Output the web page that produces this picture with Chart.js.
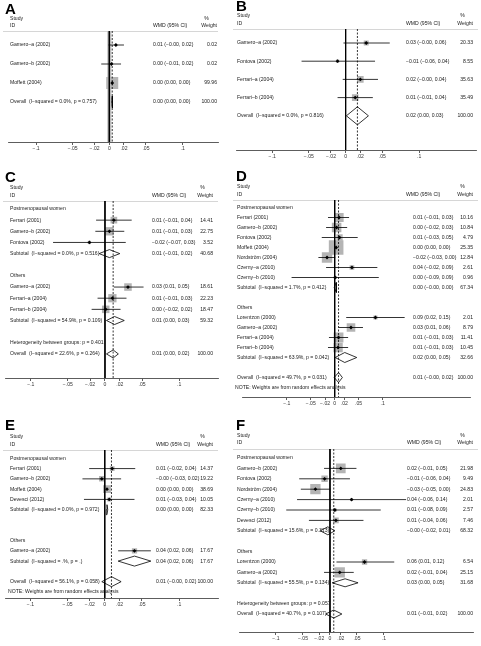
<!DOCTYPE html>
<html>
<head>
<meta charset="utf-8">
<script src="https://cdn.jsdelivr.net/npm/chart.js@4.4.1/dist/chart.umd.min.js"></script>
<style>
  html, body { margin: 0; padding: 0; background: #fff; }
  #wrap { position: relative; width: 481px; height: 646px; overflow: hidden; }
  #wrap canvas { position: absolute; }
</style>
</head>
<body>
<div id="wrap"></div>
<script>
// axis ticks shared by every panel
const xTicks = [-0.1, -0.05, -0.02, 0, 0.02, 0.05, 0.1];

// kinds: g = group title, s = study, t = subtotal / overall (diamond), h = heterogeneity, n = note, '' = blank

// ---- A ----
const aLabels = ['Gamero–a (2002)', 'Gamero–b (2002)', 'Moffett (2004)', 'Overall  (I−squared = 0.0%, p = 0.757)'];
const aKind = ['s', 's', 's', 't'];
const aEst = [0.009, 0.003, 0.004, 0.004];
const aLo = [-0.001, -0.011, 0.003, 0.0035];
const aHi = [0.020, 0.016, 0.0045, 0.0045];
const aWeight = [0.02, 0.02, 99.96, 100];

// ---- B ----
const bLabels = ['Gamero–a (2002)', 'Fontova (2002)', 'Ferrari–a (2004)', 'Ferrari–b (2004)', 'Overall  (I−squared = 0.0%, p = 0.816)'];
const bKind = ['s', 's', 's', 's', 't'];
const bEst = [0.028, -0.011, 0.020, 0.013, 0.016];
const bLo = [-0.003, -0.060, -0.004, -0.011, 0.001];
const bHi = [0.060, 0.040, 0.044, 0.037, 0.031];
const bWeight = [20.33, 8.55, 35.63, 35.49, 100];

// ---- C ----
const cLabels = ['Postmenopausal women', 'Ferrari (2001)', 'Gamero–b (2002)', 'Fontova (2002)',
  'Subtotal  (I−squared = 0.0%, p = 0.516)', '', 'Others', 'Gamero–a (2002)', 'Ferrari–a (2004)',
  'Ferrari–b (2004)', 'Subtotal  (I−squared = 54.9%, p = 0.109)', '',
  'Heterogeneity between groups: p = 0.401', 'Overall  (I−squared = 22.6%, p = 0.264)'];
const cKind = ['g', 's', 's', 's', 't', '', 'g', 's', 's', 's', 't', '', 'h', 't'];
const cEst = [null, 0.012, 0.006, -0.021, 0.006, null, null, 0.031, 0.010, 0.001, 0.013, null, null, 0.011];
const cLo = [null, -0.012, -0.013, -0.070, -0.008, null, null, 0.012, -0.010, -0.018, 0.002, null, null, 0.002];
const cHi = [null, 0.036, 0.026, 0.028, 0.020, null, null, 0.052, 0.029, 0.021, 0.026, null, null, 0.018];
const cWeight = [null, 14.41, 22.75, 3.52, 40.68, null, null, 18.61, 22.23, 18.47, 59.32, null, null, 100];

// ---- D ----
const dLabels = ['Postmenopausal women', 'Ferrari (2001)', 'Gamero–b (2002)', 'Fontova (2002)', 'Moffett (2004)',
  'Nordström (2004)', 'Czerny–a (2010)', 'Czerny–b (2010)', 'Subtotal  (I−squared = 1.7%, p = 0.412)', '',
  'Others', 'Lorentzon (2000)', 'Gamero–a (2002)', 'Ferrari–a (2004)', 'Ferrari–b (2004)',
  'Subtotal  (I−squared = 63.9%, p = 0.042)', '', 'Overall  (I−squared = 49.7%, p = 0.031)',
  'NOTE: Weights are from random effects analysis'];
const dKind = ['g', 's', 's', 's', 's', 's', 's', 's', 't', '', 'g', 's', 's', 's', 's', 't', '', 't', 'n'];
const dEst = [null, 0.009, 0.004, 0.010, 0.003, -0.016, 0.036, 0.001, 0.003, null, null, 0.085, 0.034, 0.008, 0.007, 0.021, null, 0.008, null];
const dLo = [null, -0.014, -0.018, -0.027, 0.002, -0.034, -0.018, -0.090, -0.001, null, null, 0.024, 0.009, -0.012, -0.014, 0.001, null, -0.001, null];
const dHi = [null, 0.030, 0.026, 0.048, 0.004, 0.001, 0.089, 0.092, 0.004, null, null, 0.146, 0.059, 0.028, 0.028, 0.046, null, 0.016, null];
const dWeight = [null, 10.16, 10.84, 4.79, 25.35, 12.84, 2.61, 0.96, 67.34, null, null, 2.01, 8.79, 11.41, 10.45, 32.66, null, 100, null];

// ---- E ----
const eLabels = ['Postmenopausal women', 'Ferrari (2001)', 'Gamero–b (2002)', 'Moffett (2004)', 'Devesci (2012)',
  'Subtotal  (I−squared = 0.0%, p = 0.972)', '', '', 'Others', 'Gamero–a (2002)',
  'Subtotal  (I−squared = .%, p = .)', '', 'Overall  (I−squared = 56.1%, p = 0.058)',
  'NOTE: Weights are from random effects analysis'];
const eKind = ['g', 's', 's', 's', 's', 't', '', '', 'g', 's', 't', '', 't', 'n'];
const eEst = [null, 0.010, -0.004, 0.003, 0.006, 0.003, null, null, null, 0.040, 0.040, null, 0.009, null];
const eLo = [null, -0.021, -0.030, 0.002, -0.028, 0.002, null, null, null, 0.018, 0.018, null, -0.004, null];
const eHi = [null, 0.041, 0.022, 0.004, 0.040, 0.004, null, null, null, 0.062, 0.062, null, 0.022, null];
const eWeight = [null, 14.37, 19.22, 38.69, 10.05, 82.33, null, null, null, 17.67, 17.67, null, 100, null];

// ---- F ----
const fLabels = ['Postmenopausal women', 'Gamero–b (2002)', 'Fontova (2002)', 'Nordström (2004)', 'Czerny–a (2010)',
  'Czerny–b (2010)', 'Devesci (2012)', 'Subtotal  (I−squared = 15.6%, p = 0.313)', '', 'Others',
  'Lorentzon (2000)', 'Gamero–a (2002)', 'Subtotal  (I−squared = 55.5%, p = 0.134)', '',
  'Heterogeneity between groups: p = 0.057', 'Overall  (I−squared = 40.7%, p = 0.107)'];
const fKind = ['g', 's', 's', 's', 's', 's', 's', 't', '', 'g', 's', 's', 't', '', 'h', 't'];
const fEst = [null, 0.020, -0.010, -0.027, 0.040, 0.009, 0.011, -0.004, null, null, 0.064, 0.018, 0.028, null, null, 0.007];
const fLo = [null, -0.011, -0.057, -0.054, -0.061, -0.081, -0.039, -0.018, null, null, 0.012, -0.011, 0.004, null, null, -0.008];
const fHi = [null, 0.049, 0.037, 0.001, 0.141, 0.094, 0.062, 0.009, null, null, 0.119, 0.044, 0.052, null, null, 0.022];
const fWeight = [null, 21.98, 9.49, 24.83, 2.01, 2.57, 7.46, 68.32, null, null, 6.54, 25.15, 31.68, null, null, 100];

const FONT = '"Liberation Sans", Arial, sans-serif';
const FS = 5.1;

// page layout of each panel (page pixels)
const layouts = [
  { id: 'A', left: 0, top: 0, width: 236, height: 160, plotL: 5, plotR: 218, plotT: 31, plotB: 142,
    zero: 107.5, ppu: 745, row0: 45, step: 19, xLab: 10, xWmd: 153, xWmdHead: 153, xW: 217,
    yStudy: 19, yId: 26, letterX: 5, letterY: 14, boxK: 1.2, dia: 6, band: true },
  { id: 'B', left: 232, top: 0, width: 249, height: 170, plotL: 235, plotR: 478, plotT: 29, plotB: 150,
    zero: 345.5, ppu: 745, row0: 43, step: 18.2, xLab: 237, xWmd: 406, xWmdHead: 406, xW: 473,
    yStudy: 16, yId: 24, letterX: 236, letterY: 11, boxK: 1.1, dia: 9 },
  { id: 'C', left: 0, top: 160, width: 236, height: 230, plotL: 5, plotR: 218, plotT: 201, plotB: 378,
    zero: 104.5, ppu: 745, row0: 209, step: 11.15, xLab: 10, xWmd: 152, xWmdHead: 152, xW: 213,
    yStudy: 188, yId: 196, letterX: 5, letterY: 182, boxK: 1.75, dia: 4 },
  { id: 'D', left: 232, top: 160, width: 249, height: 255, plotL: 235, plotR: 478, plotT: 200, plotB: 397,
    zero: 333.3, ppu: 510, row0: 207.5, step: 10, xLab: 237, xWmd: 413, xWmdHead: 406, xW: 473,
    yStudy: 187, yId: 195, letterX: 236, letterY: 181, boxK: 2.9, dia: 5 },
  { id: 'E', left: 0, top: 405, width: 236, height: 210, plotL: 5, plotR: 218, plotT: 450, plotB: 598,
    zero: 104.5, ppu: 745, row0: 458.3, step: 10.28, xLab: 10, xWmd: 156, xWmdHead: 156, xW: 213,
    yStudy: 437, yId: 445, letterX: 5, letterY: 430, boxK: 1.25, dia: 5 },
  { id: 'F', left: 232, top: 405, width: 249, height: 241, plotL: 235, plotR: 478, plotT: 449, plotB: 632,
    zero: 329, ppu: 560, row0: 458, step: 10.4, xLab: 237, xWmd: 407, xWmdHead: 407, xW: 473,
    yStudy: 436, yId: 443, letterX: 236, letterY: 430, boxK: 2.07, dia: 4 }
];

const panelData = {
  A: { labels: aLabels, kind: aKind, est: aEst, lo: aLo, hi: aHi, weight: aWeight },
  B: { labels: bLabels, kind: bKind, est: bEst, lo: bLo, hi: bHi, weight: bWeight },
  C: { labels: cLabels, kind: cKind, est: cEst, lo: cLo, hi: cHi, weight: cWeight },
  D: { labels: dLabels, kind: dKind, est: dEst, lo: dLo, hi: dHi, weight: dWeight },
  E: { labels: eLabels, kind: eKind, est: eEst, lo: eLo, hi: eHi, weight: eWeight },
  F: { labels: fLabels, kind: fKind, est: fEst, lo: fLo, hi: fHi, weight: fWeight }
};

const num = v => v.toFixed(2).replace('-', '−');
const tickText = v => {
  if (Math.abs(v) < 1e-9) return '0';
  return (v < 0 ? '−' : '') + String(Math.abs(v)).replace(/^0/, '');
};

function textPlugin(p, d) {
  return {
    id: 'forestText' + p.id,
    beforeDatasetsDraw(chart) {
      const ctx = chart.ctx;
      const top = chart.chartArea.top;
      ctx.save();
      ctx.strokeStyle = '#d6d6d6';
      ctx.lineWidth = 1;
      ctx.beginPath();
      ctx.moveTo(p.plotL - 2 - p.left, top + 0.5);
      ctx.lineTo(p.plotR - p.left, top + 0.5);
      ctx.stroke();
      ctx.restore();
    },
    afterDraw(chart) {
      const ctx = chart.ctx;
      const ys = chart.scales.y;
      const X = v => v - p.left;
      const Y = v => v - p.top;
      ctx.save();
      // panel letter
      ctx.fillStyle = '#000';
      ctx.font = 'bold 15px ' + FONT;
      ctx.textAlign = 'left';
      ctx.textBaseline = 'alphabetic';
      ctx.fillText(p.id, X(p.letterX), Y(p.letterY));

      // column headers
      ctx.font = FS + 'px ' + FONT;
      ctx.fillStyle = '#1a1a1a';
      ctx.textBaseline = 'middle';
      ctx.fillText('Study', X(p.xLab), Y(p.yStudy));
      ctx.fillText('ID', X(p.xLab), Y(p.yId));
      ctx.fillText('WMD (95% CI)', X(p.xWmdHead), Y(p.yId));
      const ww = ctx.measureText('Weight').width;
      ctx.fillText('%', X(p.xW) - ww + 3, Y(p.yStudy));
      ctx.textAlign = 'right';
      ctx.fillText('Weight', X(p.xW), Y(p.yId));

      // rows
      d.labels.forEach((lab, i) => {
        const k = d.kind[i];
        if (!k) return;
        const py = ys.getPixelForValue(i);
        ctx.textAlign = 'left';
        ctx.fillText(lab, X(k === 'n' ? p.xLab - 2 : p.xLab), py);
        if (k === 's' || k === 't') {
          ctx.fillText(num(d.est[i]) + ' (' + num(d.lo[i]) + ', ' + num(d.hi[i]) + ')', X(p.xWmd), py);
          ctx.textAlign = 'right';
          ctx.fillText(d.weight[i].toFixed(2), X(p.xW), py);
        }
      });
      ctx.restore();
    }
  };
}

function buildPanel(p) {
  const d = panelData[p.id];
  const cv = document.createElement('canvas');
  cv.width = p.width;
  cv.height = p.height;
  cv.style.left = p.left + 'px';
  cv.style.top = p.top + 'px';
  document.getElementById('wrap').appendChild(cv);

  const xMin = (p.plotL - p.zero) / p.ppu;
  const xMax = (p.plotR - p.zero) / p.ppu;
  const yMin = (p.plotT - p.row0) / p.step;
  const yMax = (p.plotB - p.row0) / p.step;
  const axisH = 3 + FS * 1.2 + 2;
  const h = p.dia / p.step;

  const datasets = [];
  const pts = [], boxR = [];
  d.kind.forEach((k, i) => {
    if (k === 's') {
      pts.push({ x: d.est[i], y: i });
      boxR.push(p.boxK * Math.sqrt(d.weight[i]) / Math.SQRT2);
    }
  });
  // point estimates (on top)
  datasets.push({ type: 'scatter', data: pts, pointStyle: 'rectRot', pointRadius: 1.9,
    backgroundColor: '#000', borderWidth: 0, order: 0 });
  // confidence intervals and pooled diamonds
  d.kind.forEach((k, i) => {
    if (k === 's' && d.hi[i] > d.lo[i]) {
      datasets.push({ type: 'line', data: [{ x: d.lo[i], y: i }, { x: d.hi[i], y: i }],
        borderColor: '#000', borderWidth: 0.8, pointRadius: 0, order: 1 });
    }
    if (k === 't') {
      datasets.push({ type: 'line', data: [
          { x: d.lo[i], y: i }, { x: d.est[i], y: i - h }, { x: d.hi[i], y: i },
          { x: d.est[i], y: i + h }, { x: d.lo[i], y: i }],
        borderColor: '#000', borderWidth: 0.8, pointRadius: 0, fill: false, order: 1 });
    }
  });
  // line of no effect and overall estimate
  const overall = d.est[d.kind.lastIndexOf('t')];
  datasets.push({ type: 'line', data: [{ x: 0, y: yMin }, { x: 0, y: yMax }],
    borderColor: '#000', borderWidth: 1, pointRadius: 0, order: 2 });
  datasets.push({ type: 'line', data: [{ x: overall, y: yMin }, { x: overall, y: yMax }],
    borderColor: '#000', borderWidth: 0.8, borderDash: [2, 1.5], pointRadius: 0, order: 2 });
  if (p.band) {
    datasets.push({ type: 'line', data: [{ x: 0, y: yMin }, { x: 0, y: yMax }],
      borderColor: '#bdbdbd', borderWidth: 4, pointRadius: 0, order: 4 });
  }
  // weight boxes (bottom)
  datasets.push({ type: 'scatter', data: pts.map(o => ({ x: o.x, y: o.y })), pointStyle: 'rect',
    pointRadius: boxR, backgroundColor: '#b4b4b4', borderWidth: 0, order: 3 });

  new Chart(cv, {
    type: 'scatter',
    data: { datasets },
    options: {
      responsive: false,
      animation: false,
      devicePixelRatio: 1,
      events: [],
      layout: { padding: {
        left: p.plotL - p.left,
        right: p.left + p.width - p.plotR,
        top: p.plotT - p.top,
        bottom: p.height - (p.plotB - p.top) - axisH
      } },
      plugins: { legend: { display: false }, tooltip: { enabled: false } },
      scales: {
        x: {
          type: 'linear', min: xMin, max: xMax,
          afterBuildTicks: s => { s.ticks = xTicks.map(v => ({ value: v })); },
          ticks: { autoSkip: false, maxRotation: 0, minRotation: 0, padding: 1,
            font: { size: FS, family: FONT }, color: '#333', callback: v => tickText(v) },
          grid: { display: true, drawOnChartArea: false, drawTicks: true, tickLength: 3,
            color: '#333', lineWidth: 0.8 },
          border: { display: true, color: '#333', width: 0.8 }
        },
        y: { type: 'linear', display: false, reverse: true, min: yMin, max: yMax }
      }
    },
    plugins: [textPlugin(p, d)]
  });
}

layouts.forEach(buildPanel);
</script>
</body>
</html>
